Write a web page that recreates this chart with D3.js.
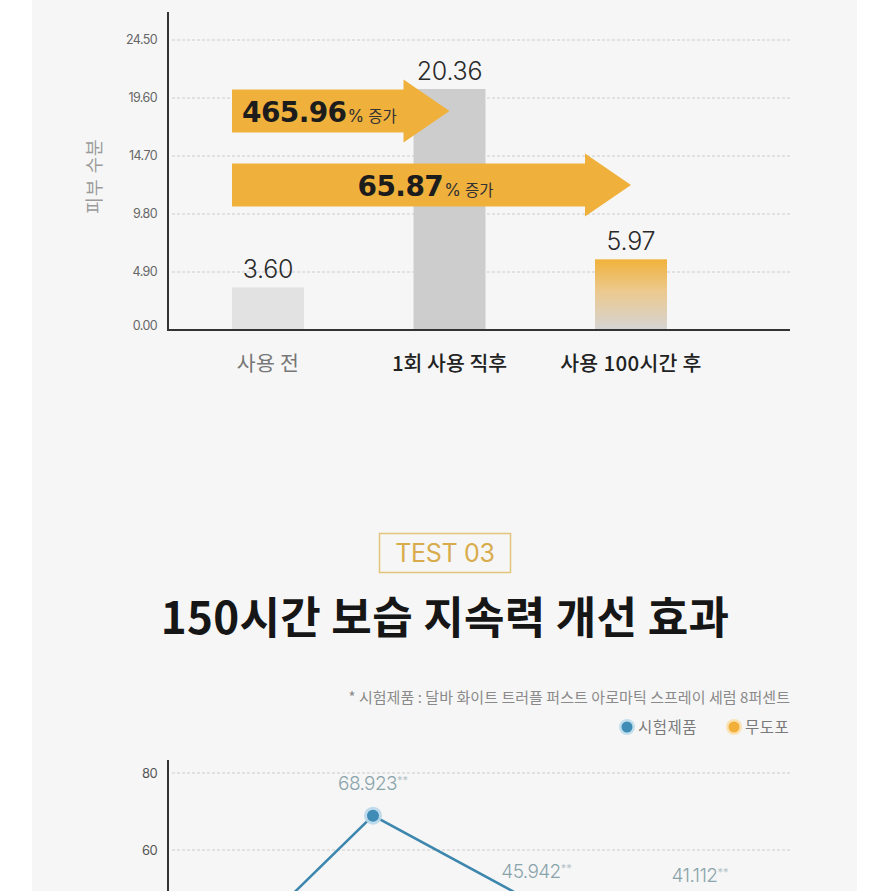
<!DOCTYPE html>
<html>
<head>
<meta charset="utf-8">
<script src="https://cdn.jsdelivr.net/npm/d3@7"></script>
<style>
  html, body { margin: 0; padding: 0; background: #ffffff; }
  svg { display: block; }
</style>
</head>
<body>
<svg id="chart" width="891" height="891"></svg>
<script>
// ---------- DATA ----------
const categories = ["사용 전", "1회 사용 직후", "사용 100시간 후"];
const moisture = [3.60, 20.36, 5.97];
const moistureLabels = ["3.60", "20.36", "5.97"];
const yTicks = [0, 4.9, 9.8, 14.7, 19.6, 24.5];
const yTickLabels = ["0.00", "4.90", "9.80", "14.70", "19.60", "24.50"];
const increaseFrom = [0, 0];
const increaseTo = [1, 2];
const increasePct = ["465.96", "65.87"];

const lineCategories = ["사용 전", "사용 직후", "사용 100시간 후", "사용 150시간 후"];
const testProduct = [27.5, 68.923, 45.942, 41.112];
const testProductLabels = ["", "68.923", "45.942", "41.112"];
const lineTicks = [60, 80];
const legendNames = ["시험제품", "무도포"];

// ---------- SETUP ----------
const KR = "'Noto Sans CJK KR', 'Noto Sans', sans-serif";
const NUM = "Inter, 'Noto Sans', sans-serif";
const svg = d3.select("#chart");

svg.append("rect").attr("x", 32).attr("y", 0).attr("width", 825).attr("height", 891).attr("fill", "#f6f6f6");

const defs = svg.append("defs");
const grad = defs.append("linearGradient").attr("id", "barGrad").attr("x1", 0).attr("y1", 0).attr("x2", 0).attr("y2", 1);
grad.append("stop").attr("offset", "0%").attr("stop-color", "#f0b23a");
grad.append("stop").attr("offset", "45%").attr("stop-color", "#ecc98e");
grad.append("stop").attr("offset", "100%").attr("stop-color", "#d4d4d4");

// ---------- TOP BAR CHART ----------
const x = d3.scalePoint().domain(categories).range([268, 631]);
const y = d3.scaleLinear().domain([0, 24.5]).range([330, 40]);
const barW = 72;
const axisX = 168, gridRight = 790;

// gridlines
svg.append("g").selectAll("line").data(yTicks.filter(d => d > 0)).join("line")
  .attr("x1", axisX + 4).attr("x2", gridRight)
  .attr("y1", d => y(d)).attr("y2", d => y(d))
  .attr("stroke", "#cccccc").attr("stroke-width", 1).attr("stroke-dasharray", "3,2");

// tick labels
svg.append("g").selectAll("text").data(yTicks).join("text")
  .attr("x", 157).attr("y", d => y(d) - (d === 0 ? 4 : 0)).attr("dy", "0.35em")
  .attr("text-anchor", "end").attr("font-family", NUM).attr("font-size", 12.5)
  .attr("letter-spacing", "-0.6").attr("fill", "#666")
  .text((d, i) => yTickLabels[i]);

// y title
svg.append("text").attr("transform", "translate(101,176) rotate(-90)")
  .attr("text-anchor", "middle").attr("font-family", KR).attr("font-size", 18)
  .attr("letter-spacing", "1").attr("fill", "#9a9a9a").text("피부 수분");

// bars
const barFills = ["#e2e2e2", "#cdcdcd", "url(#barGrad)"];
svg.append("g").selectAll("rect").data(moisture).join("rect")
  .attr("x", (d, i) => x(categories[i]) - barW / 2)
  .attr("y", d => y(d)).attr("width", barW).attr("height", d => y(0) - y(d))
  .attr("fill", (d, i) => barFills[i]);

// value labels
svg.append("g").selectAll("text").data(moisture).join("text")
  .attr("x", (d, i) => x(categories[i]))
  .attr("y", d => y(d) - 9)
  .attr("text-anchor", "middle").attr("font-family", NUM).attr("font-weight", 300)
  .attr("font-size", 25).attr("letter-spacing", "-0.2").attr("fill", "#2a2a2a")
  .text((d, i) => moistureLabels[i]);

// axes lines
svg.append("line").attr("x1", axisX).attr("x2", axisX).attr("y1", 12).attr("y2", 331)
  .attr("stroke", "#333").attr("stroke-width", 2);
svg.append("line").attr("x1", axisX - 1).attr("x2", gridRight).attr("y1", 330).attr("y2", 330)
  .attr("stroke", "#333").attr("stroke-width", 2);

// category labels
svg.append("g").selectAll("text").data(categories).join("text")
  .attr("x", d => x(d)).attr("y", 371)
  .attr("text-anchor", "middle").attr("font-family", KR).attr("font-size", 20.5)
  .attr("font-weight", (d, i) => i === 0 ? 400 : 500)
  .attr("letter-spacing", (d, i) => i === 1 ? "0" : "0.3")
  .attr("fill", (d, i) => i === 0 ? "#777" : "#222")
  .text(d => d);

// arrows (annotations)
const arrowLevel = [18.5, 12.25];   // arrow centre line in data units
const bodyHalf = 21.5, headHalf = 31.5, headLen = 46;
increasePct.forEach((pct, k) => {
  const x0 = x(categories[increaseFrom[k]]) - barW / 2;
  const tip = x(categories[increaseTo[k]]);
  const cy = y(arrowLevel[k]);
  const hb = tip - headLen;
  const pts = [[x0, cy - bodyHalf], [hb, cy - bodyHalf], [hb, cy - headHalf], [tip, cy],
               [hb, cy + headHalf], [hb, cy + bodyHalf], [x0, cy + bodyHalf]];
  svg.append("path").attr("d", d3.line()(pts) + "Z").attr("fill", "#f0b13c");
  const t = svg.append("text").attr("y", cy + 11).attr("fill", "#1c1c1c");
  if (k === 0) {
    t.attr("x", x0 + 10).attr("text-anchor", "start");
  } else {
    t.attr("x", (x0 + tip) / 2 - 6).attr("text-anchor", "middle");
  }
  t.append("tspan").attr("font-family", "'DejaVu Sans', sans-serif").attr("font-weight", 700)
    .attr("font-size", 28).attr("letter-spacing", "-0.6").text(pct);
  t.append("tspan").attr("font-family", NUM).attr("font-size", 17).attr("fill", "#333").attr("dx", 1).text("%");
  t.append("tspan").attr("font-family", KR).attr("font-size", 15.5).attr("fill", "#333").attr("dx", 4).text("증가");
});

// ---------- HEADINGS ----------
svg.append("rect").attr("x", 379.5).attr("y", 533.5).attr("width", 131).attr("height", 39)
  .attr("fill", "none").attr("stroke", "#e2c57a").attr("stroke-width", 1.5);
svg.append("text").attr("x", 445).attr("y", 562).attr("text-anchor", "middle")
  .attr("font-family", NUM).attr("font-size", 25).attr("fill", "#d8ac4c").attr("letter-spacing", "-0.3")
  .text("TEST 03");
svg.append("text").attr("x", 445).attr("y", 634).attr("text-anchor", "middle")
  .attr("font-family", KR).attr("font-weight", 700).attr("font-size", 44).attr("letter-spacing", "0.3")
  .attr("fill", "#161616").text("150시간 보습 지속력 개선 효과");
svg.append("text").attr("x", 790).attr("y", 703).attr("text-anchor", "end")
  .attr("font-family", KR).attr("font-size", 15).attr("letter-spacing", "0.05").attr("fill", "#8a8a8a")
  .text("* 시험제품 : 달바 화이트 트러플 퍼스트 아로마틱 스프레이 세럼 8퍼센트");

// legend
const legendColors = ["#3f8db7", "#f2b03a"];
const legendHalo = ["#c3deec", "#fbe2b2"];
const legendX = [627, 734];
legendNames.forEach((name, i) => {
  svg.append("circle").attr("cx", legendX[i]).attr("cy", 727).attr("r", 8).attr("fill", legendHalo[i]);
  svg.append("circle").attr("cx", legendX[i]).attr("cy", 727).attr("r", 5.5).attr("fill", legendColors[i]);
  svg.append("text").attr("x", legendX[i] + 11).attr("y", 733)
    .attr("font-family", KR).attr("font-size", 15.5).attr("letter-spacing", "0.5").attr("fill", "#7a7a7a")
    .text(name);
});

// ---------- LINE CHART ----------
const lx = d3.scalePoint().domain(lineCategories).range([209.5, 700]);
const ly = d3.scaleLinear().domain([0, 80]).range([1081, 773]);

svg.append("g").selectAll("line").data(lineTicks).join("line")
  .attr("x1", axisX + 4).attr("x2", gridRight)
  .attr("y1", d => ly(d)).attr("y2", d => ly(d))
  .attr("stroke", "#cccccc").attr("stroke-width", 1).attr("stroke-dasharray", "3,2");
svg.append("g").selectAll("text").data(lineTicks).join("text")
  .attr("x", 157).attr("y", d => ly(d)).attr("dy", "0.35em").attr("text-anchor", "end")
  .attr("font-family", NUM).attr("font-size", 13).attr("letter-spacing", "-0.6").attr("fill", "#555")
  .text(d => d);
svg.append("line").attr("x1", axisX).attr("x2", axisX).attr("y1", 760).attr("y2", 891)
  .attr("stroke", "#333").attr("stroke-width", 2);

const linePts = testProduct.map((v, i) => [lx(lineCategories[i]), ly(v)]);
svg.append("path").attr("d", d3.line()(linePts)).attr("fill", "none")
  .attr("stroke", "#3d86ad").attr("stroke-width", 2.5);
svg.append("g").selectAll("circle.h").data(linePts).join("circle")
  .attr("cx", d => d[0]).attr("cy", d => d[1]).attr("r", 9).attr("fill", "#b9d8ea").attr("opacity", 0.9);
svg.append("g").selectAll("circle.p").data(linePts).join("circle")
  .attr("cx", d => d[0]).attr("cy", d => d[1]).attr("r", 6).attr("fill", "#3f8cb6");

testProduct.forEach((v, i) => {
  if (!testProductLabels[i]) return;
  const t = svg.append("text").attr("x", lx(lineCategories[i])).attr("y", Math.min(ly(v) - 26, 882))
    .attr("text-anchor", "middle");
  t.append("tspan").attr("font-family", NUM).attr("font-weight", 300).attr("font-size", 19)
    .attr("letter-spacing", "-0.6").attr("fill", "#8aa4ab").text(testProductLabels[i]);
  t.append("tspan").attr("font-family", NUM).attr("font-size", 11).attr("dy", -6)
    .attr("fill", "#b5c4c8").text("**");
});
</script>
</body>
</html>
